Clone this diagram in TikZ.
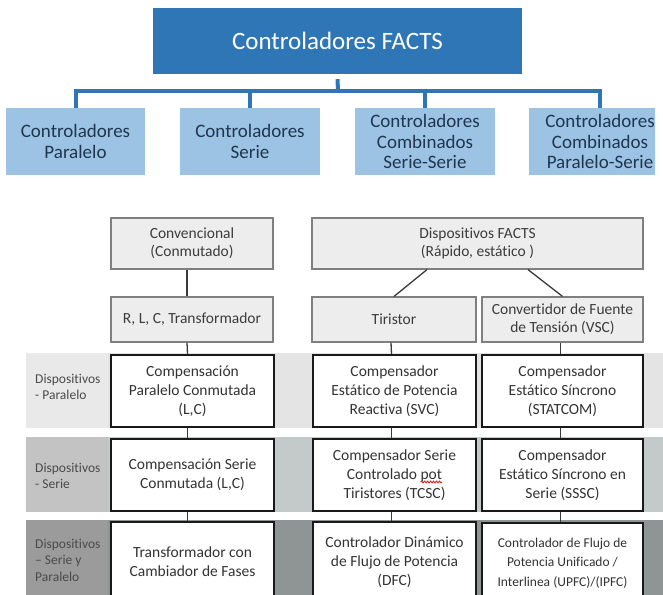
\documentclass[tikz,border=0pt]{standalone}
\usepackage{fontspec}
\setmainfont{Carlito}[Ligatures=NoCommon]
\usetikzlibrary{decorations.pathmorphing}

\newlength\potline
\newlength\potword

\definecolor{factsblue}{HTML}{2E76B6}
\definecolor{catblue}{HTML}{9DC3E4}
\definecolor{cattext}{HTML}{1E3650}
\definecolor{boxgray}{HTML}{EDEDED}
\definecolor{edgegray}{HTML}{7F7F7F}
\definecolor{techtext}{HTML}{3C3C3C}
\definecolor{devtext}{HTML}{333333}
\definecolor{linkgray}{HTML}{3A3A3A}
\definecolor{labeltext}{HTML}{4A4A4A}
\definecolor{bandA}{HTML}{E4E4E4}
\definecolor{bandAlab}{HTML}{E9E9E9}
\definecolor{bandB}{HTML}{C4C9C9}
\definecolor{bandBlab}{HTML}{C3C3C3}
\definecolor{bandC}{HTML}{8F9595}
\definecolor{bandClab}{HTML}{9B9B9B}
\definecolor{spellred}{HTML}{E02020}

\newcommand\devfont{\fontsize{15.5}{19}\selectfont}

\begin{document}
% widths used to place the spell-check wave under "pot"
\settowidth{\potline}{\devfont Controlado pot}%
\settowidth{\potword}{\devfont pot}%
\begin{tikzpicture}[x=1pt,y=-1pt,
  topbox/.style={fill=factsblue, text=white, font=\fontsize{25}{28}\selectfont,
    inner sep=0pt, minimum width=369pt, minimum height=66pt},
  catbox/.style={fill=catblue, text=cattext, font=\fontsize{19}{20.5}\selectfont,
    align=center, inner sep=0pt, minimum height=67pt},
  bus/.style={draw=factsblue, line width=4pt},
  techbox/.style={fill=boxgray, draw=edgegray, line width=1.2pt, text=techtext,
    font=\fontsize{15.5}{18}\selectfont, align=center, inner sep=0pt},
  devbox/.style={fill=white, draw=black!90, line width=2pt, text=devtext,
    font=\devfont, align=center, inner sep=0pt},
  link/.style={draw=linkgray, line width=1.3pt},
  spellwave/.style={draw=spellred, line width=0.9pt, decorate,
    decoration={snake, amplitude=0.9pt, segment length=3pt}},
  bandlabel/.style={anchor=west, align=left, text=labeltext,
    font=\fontsize{13.5}{16.5}\selectfont, inner sep=0pt}]
\useasboundingbox (0,0) rectangle (663,594);

% ---- upper chart: FACTS controller families ----
\begin{scope}
\clip (0,0) rectangle (655,200);
\node[topbox] (top) at (337.5,41) {Controladores FACTS};
\node[catbox, minimum width=139pt] (c1) at (75.5,141.5) {Controladores\\Paralelo};
\node[catbox, minimum width=140pt] (c2) at (250,141.5) {Controladores\\Serie};
\node[catbox, minimum width=140pt] (c3) at (425,141.5) {Controladores\\Combinados\\Serie-Serie};
\node[catbox, minimum width=142pt] (c4) at (600,141.5) {Controladores\\Combinados\\Paralelo-Serie};
\coordinate (busmid) at (338,91);
\draw[bus] ([yshift=-5pt]top.south) -- (busmid);
\draw[bus] (c1.north) |- (busmid) -| (c4.north);
\draw[bus] (c2.north) -- (c2.north |- busmid);
\draw[bus] (c3.north) -- (c3.north |- busmid);
\end{scope}

% ---- horizontal bands ----
\fill[bandA] (26,353) rectangle (663,428);
\fill[bandAlab] (26,353) rectangle (108,428);
\fill[bandB] (26,437) rectangle (663,512);
\fill[bandBlab] (26,437) rectangle (108,512);
\fill[bandC] (26,520) rectangle (663,600);
\fill[bandClab] (26,520) rectangle (108,600);

\node[bandlabel] (lab1) at (35,387) {Dispositivos\\- Paralelo};
\node[bandlabel] (lab2) at (35,476) {Dispositivos\\- Serie};
\node[bandlabel] (lab3) at (35,560) {Dispositivos\\– Serie y\\Paralelo};

% ---- technology tree ----
\node[techbox, minimum width=162pt, minimum height=51pt] (conv) at (192,243.5) {Convencional\\(Conmutado)};
\node[techbox, minimum width=331pt, minimum height=51pt] (facts) at (477.5,243.5) {Dispositivos FACTS\\(Rápido, estático )};
\node[techbox, minimum width=162pt, minimum height=45pt] (rlc) at (192,319.5) {R, L, C, Transformador};
\node[techbox, minimum width=164pt, minimum height=45pt] (tir) at (394,319.5) {Tiristor};
\node[techbox, minimum width=161pt, minimum height=45pt] (vsc) at (562.5,319.5) {Convertidor de Fuente\\de Tensión (VSC)};

% ---- devices ----
\node[devbox, minimum width=163pt, minimum height=72pt] (p1) at (192.5,391) {Compensación\\Paralelo Conmutada\\(L,C)};
\node[devbox, minimum width=163pt, minimum height=72pt] (p2) at (394.5,391) {Compensador\\Estático de Potencia\\Reactiva (SVC)};
\node[devbox, minimum width=161pt, minimum height=72pt] (p3) at (562.5,391) {Compensador\\Estático Síncrono\\(STATCOM)};

\node[devbox, minimum width=163pt, minimum height=72pt] (s1) at (192.5,475) {Compensación Serie\\Conmutada (L,C)};
\node[devbox, minimum width=163pt, minimum height=72pt] (s2) at (394.5,475) {Compensador Serie\\Controlado pot\\Tiristores (TCSC)};
\node[devbox, minimum width=161pt, minimum height=72pt] (s3) at (562.5,475) {Compensador\\Estático Síncrono en\\Serie (SSSC)};

\node[devbox, minimum width=163pt, minimum height=80pt] (h1) at (192.5,562) {Transformador con\\Cambiador de Fases};
\node[devbox, minimum width=163pt, minimum height=80pt] (h2) at (394.5,562) {Controlador Dinámico\\de Flujo de Potencia\\(DFC)};
\node[devbox, minimum width=161pt, minimum height=80pt, font=\fontsize{13.5}{19.5}\selectfont] (h3) at (562.5,563) {Controlador de Flujo de\\Potencia Unificado /\\Interlinea (UPFC)/(IPFC)};

% spell-check wave under the word "pot"
\coordinate (potL) at ([xshift=0.5\potline-\potword, yshift=-7pt]s2.center);
\coordinate (potR) at ([xshift=0.5\potline, yshift=-7pt]s2.center);
\draw[spellwave] (potL) -- (potR);

% ---- connectors ----
\draw[link] ([xshift=-5pt]conv.south) -- ([xshift=-5pt]rlc.north);
\draw[link] ([xshift=-50.5pt]facts.south) -- (tir.north);
\draw[link] ([xshift=50.5pt]facts.south) -- (vsc.north);
\draw[link] ([xshift=-5pt]rlc.south) -- ([xshift=-5pt]p1.north);
\draw[link] ([xshift=-3pt]tir.south) -- ([xshift=-3pt]p2.north);
\draw[link] ([xshift=-2pt]vsc.south) -- ([xshift=-2pt]p3.north);
\draw[link] ([xshift=-5pt]p1.south) -- ([xshift=-5pt]s1.north);
\draw[link] ([xshift=-3pt]p2.south) -- ([xshift=-3pt]s2.north);
\draw[link] ([xshift=-2pt]p3.south) -- ([xshift=-2pt]s3.north);
\draw[link] ([xshift=-5pt]s1.south) -- ([xshift=-5pt]h1.north);
\draw[link] ([xshift=-3pt]s2.south) -- ([xshift=-3pt]h2.north);
\draw[link] ([xshift=-2pt]s3.south) -- ([xshift=-2pt]h3.north);
\end{tikzpicture}
\end{document}
